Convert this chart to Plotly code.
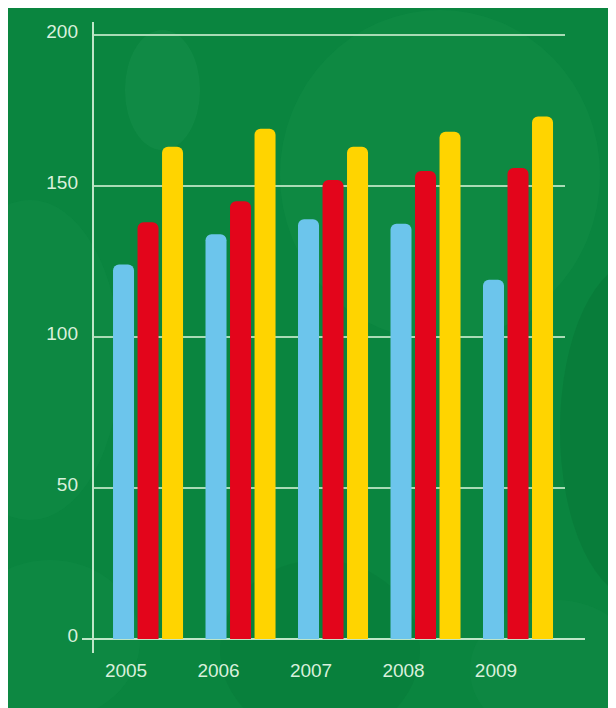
import plotly.graph_objects as go

years = ["2005", "2006", "2007", "2008", "2009"]
blue_vals = [124, 134, 139, 137.5, 119]
red_vals = [138, 145, 152, 155, 156]
yellow_vals = [163, 169, 163, 168, 173]
y_ticks = [0, 50, 100, 150, 200]

x_idx = list(range(len(years)))

fig = go.Figure()
for vals, col in [(blue_vals, "#6cc5ec"), (red_vals, "#e3051b"), (yellow_vals, "#ffd400")]:
    fig.add_trace(go.Bar(x=x_idx, y=vals, marker=dict(color=col, cornerradius=6, line=dict(width=0)),
                         showlegend=False, hoverinfo="skip"))

# page offset (browser body margin)
OFF = 8
# plot area in page pixels: x 93..565, y 29..639 (y range 0..202, 200 at y=35)
L, R, T, B = 93 - OFF, 565 - OFF, 29 - OFF, 639 - OFF
W, H = 616 - OFF, 708 - OFF
pw, ph = R - L, B - T
def px(p):
    return (p - OFF - L) / pw
def py(p):
    return (B - (p - OFF)) / ph

shapes = []
# background
shapes.append(dict(type="rect", xref="paper", yref="paper", x0=px(0), x1=px(630), y0=py(0), y1=py(720),
                   fillcolor="#0a853f", line=dict(width=0), layer="below"))
# subtle circles
circles = [
    (125, 30, 200, 150, "rgba(40,160,90,0.22)"),
    (280, 10, 600, 340, "rgba(40,160,90,0.16)"),
    (-60, 200, 120, 520, "rgba(40,160,90,0.13)"),
    (560, 260, 720, 600, "rgba(0,90,40,0.18)"),
    (-40, 560, 140, 720, "rgba(40,160,90,0.13)"),
    (220, 560, 420, 740, "rgba(0,100,45,0.15)"),
    (470, 600, 640, 740, "rgba(40,160,90,0.12)"),
]
for x0, y0, x1, y1, c in circles:
    shapes.append(dict(type="circle", xref="paper", yref="paper", x0=px(x0), x1=px(x1), y0=py(y1), y1=py(y0),
                       fillcolor=c, line=dict(width=0), layer="below"))
# y-axis line
shapes.append(dict(type="line", xref="paper", yref="paper", x0=0, x1=0, y0=py(653), y1=py(22),
                   line=dict(color="#bfe6c8", width=2)))
# baseline
shapes.append(dict(type="line", xref="paper", yref="paper", x0=px(82), x1=px(585), y0=0, y1=0,
                   line=dict(color="#bfe6c8", width=2), layer="below"))

fig.update_layout(
    width=W, height=H,
    margin=dict(l=L, r=W - R, t=T, b=H - B, pad=0),
    paper_bgcolor="#0a853f",
    plot_bgcolor="rgba(0,0,0,0)",
    barmode="group", bargap=0.205, bargroupgap=0.143,
    shapes=shapes,
    font=dict(family="Liberation Sans, Arial, sans-serif", size=19, color="#d9f0dc"),
    xaxis=dict(range=[-0.595, 4.508], tickmode="array", tickvals=x_idx, ticktext=years,
               ticklabelshift=-22, ticklabelstandoff=18, showgrid=False, zeroline=False,
               showline=False, ticks="", fixedrange=True),
    yaxis=dict(range=[0, 202], tickmode="array", tickvals=y_ticks, ticktext=[str(v) for v in y_ticks],
               showgrid=True, gridcolor="#a9dbb5", gridwidth=2, zeroline=False, showline=False,
               ticks="", ticklabelstandoff=14, ticklabelshift=-4, fixedrange=True),
)

fig.write_html("out.html")
